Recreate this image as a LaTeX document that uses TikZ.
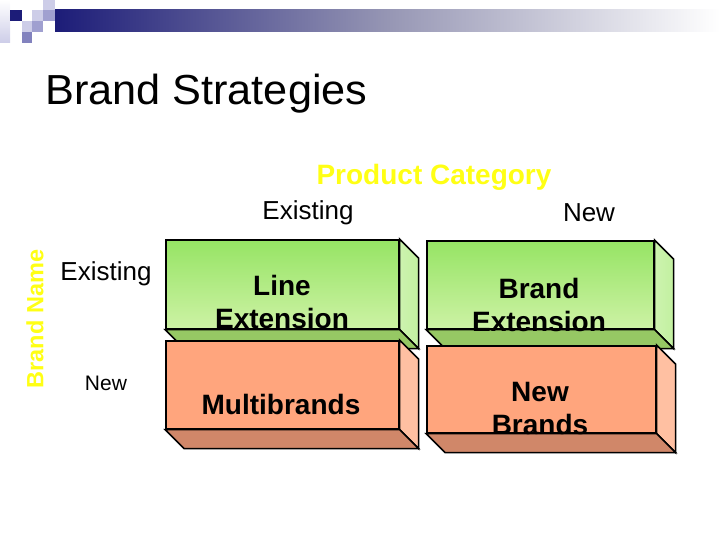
\documentclass[tikz,border=0pt]{standalone}
\usepackage{fontspec}
\setmainfont{Liberation Sans}
\usetikzlibrary{calc}
\definecolor{navy}{RGB}{28,28,120}
\definecolor{lav1}{RGB}{205,205,232}
\definecolor{lav2}{RGB}{160,160,208}
\definecolor{lav3}{RGB}{130,130,190}
\definecolor{gTop}{RGB}{150,228,100}
\definecolor{gBot}{RGB}{205,242,165}
\definecolor{gSide}{RGB}{205,243,175}
\definecolor{gBase}{RGB}{150,200,100}
\definecolor{oFront}{RGB}{255,165,125}
\definecolor{oSide}{RGB}{255,192,162}
\definecolor{oBase}{RGB}{208,135,105}
\definecolor{ylw}{RGB}{255,255,20}
\tikzset{
  fsz/.style={font=\fontsize{#1}{#1}\selectfont},
  face/.style={draw=black, line width=1.6pt, line join=miter},
  gfront/.style={face, top color=gTop, bottom color=gBot, inner sep=0pt, anchor=north west},
  ofront/.style={face, fill=oFront, inner sep=0pt, anchor=north west},
  boxtxt/.style={font=\bfseries\fontsize{28}{33}\selectfont, align=center, text=black},
  lbl/.style={fsz=#1, text=black, inner sep=0pt},
}
\begin{document}
\begin{tikzpicture}[x=1pt,y=-1pt]
\useasboundingbox (0,0) rectangle (720,540);
% header
\shade[left color=navy, right color=white, middle color={rgb,255:red,150;green,150;blue,180}] (55,10) rectangle (720,32);
\shade[top color=white, bottom color=lav1] (0,0) rectangle (10,43);
\fill[navy] (10,10) rectangle (22,21);
\fill[lav1] (32,10) rectangle (43,21);
\fill[lav1] (43,0) rectangle (55,10);
\fill[lav2] (43,10) rectangle (55,21);
\fill[lav1] (22,21) rectangle (32,32);
\fill[lav2] (32,21) rectangle (43,32);
\fill[lav3] (22,32) rectangle (32,43);
% title
\node[lbl=42, anchor=base west] (title) at (45,105) {\scalebox{1.03}[1]{Brand Strategies}};
% axis labels
\node[text=ylw, font=\bfseries\fontsize{28}{32}\selectfont] (pc) at (434,177) {Product Category};
\node[lbl=26] (cex) at (308,213) {Existing};
\node[lbl=26] (cnew) at (589,213) {New};
\node[lbl=26] (rex) at (106,274) {Existing};
\node[lbl=21] (rnew) at (106,383) {New};
\node[text=ylw, font=\bfseries\fontsize{23.5}{28}\selectfont, rotate=90] (bn) at (35,319) {Brand Name};
% box 1: Line Extension
\node[gfront, minimum width=233pt, minimum height=89pt] (le) at (165,239) {};
\draw[face, left color=gSide, right color=gSide!80!gTop] (le.north east) -- ++(19,19) -- ($(le.south east)+(19,19)$) -- (le.south east) -- cycle;
\draw[face, fill=gBase] (le.south west) -- (le.south east) -- ++(19,19) -- ($(le.south west)+(19,19)$) -- cycle;
% box 2: Brand Extension
\node[gfront, minimum width=227pt, minimum height=88pt] (be) at (426,240) {};
\draw[face, left color=gSide, right color=gSide!80!gTop] (be.north east) -- ++(19,19) -- ($(be.south east)+(19,19)$) -- (be.south east) -- cycle;
\draw[face, fill=gBase] (be.south west) -- (be.south east) -- ++(19,19) -- ($(be.south west)+(19,19)$) -- cycle;
% box 3: Multibrands
\node[ofront, minimum width=233pt, minimum height=88pt] (mb) at (165,340) {};
\draw[face, fill=oSide] (mb.north east) -- ++(19,19) -- ($(mb.south east)+(19,19)$) -- (mb.south east) -- cycle;
\draw[face, fill=oBase] (mb.south west) -- (mb.south east) -- ++(19,19) -- ($(mb.south west)+(19,19)$) -- cycle;
% box 4: New Brands
\node[ofront, minimum width=229pt, minimum height=87pt] (nb) at (426,345) {};
\draw[face, fill=oSide] (nb.north east) -- ++(19,19) -- ($(nb.south east)+(19,19)$) -- (nb.south east) -- cycle;
\draw[face, fill=oBase] (nb.south west) -- (nb.south east) -- ++(19,19) -- ($(nb.south west)+(19,19)$) -- cycle;
% box texts
\node[boxtxt] (tle) at (282,302) {Line\\Extension};
\node[boxtxt] (tbe) at (539,305) {Brand\\Extension};
\node[boxtxt] (tmb) at (281,404) {Multibrands};
\node[boxtxt] (tnb) at (540,409) {New\\Brands};
\end{tikzpicture}
\end{document}
